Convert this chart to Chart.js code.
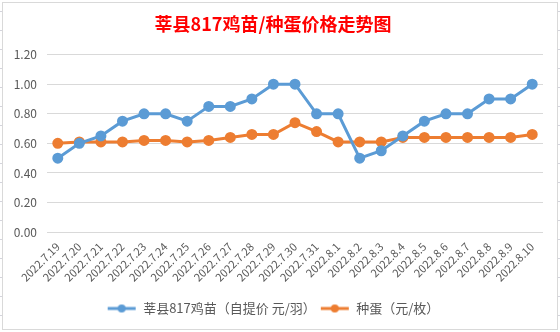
<!DOCTYPE html>
<html lang="zh">
<head>
    <meta charset="UTF-8">
    <title>莘县817鸡苗/种蛋价格走势图</title>
    <style>
        * { margin: 0; padding: 0; box-sizing: border-box; }
        body { width: 560px; height: 332px; background: #fff; position: relative; overflow: hidden;
               background-image: linear-gradient(#d4d4dc 1px, transparent 1px); background-size: 100% 19px; background-position: 0 11px; }
        #box { position: absolute; left: 2px; top: 2px; width: 556px; height: 328px; background: #fff; border: 1px solid #d9d9d9; }
        canvas { display: block; }
    </style>
</head>
<body>
    <div id="box"><canvas id="chart" width="554" height="326"></canvas></div>

    <script src="https://cdn.jsdelivr.net/npm/chart.js@4.4.0/dist/chart.umd.min.js"></script>
    <script>
        const dates = ['2022.7.19', '2022.7.20', '2022.7.21', '2022.7.22', '2022.7.23', '2022.7.24', '2022.7.25',
            '2022.7.26', '2022.7.27', '2022.7.28', '2022.7.29', '2022.7.30', '2022.7.31', '2022.8.1', '2022.8.2',
            '2022.8.3', '2022.8.4', '2022.8.5', '2022.8.6', '2022.8.7', '2022.8.8', '2022.8.9', '2022.8.10'];
        const chickPrice = [0.50, 0.60, 0.65, 0.75, 0.80, 0.80, 0.75, 0.85, 0.85, 0.90, 1.00, 1.00, 0.80, 0.80,
            0.50, 0.55, 0.65, 0.75, 0.80, 0.80, 0.90, 0.90, 1.00];
        const eggPrice = [0.60, 0.61, 0.61, 0.61, 0.62, 0.62, 0.61, 0.62, 0.64, 0.66, 0.66, 0.74, 0.68, 0.61,
            0.61, 0.61, 0.64, 0.64, 0.64, 0.64, 0.64, 0.64, 0.66];
        const yTicks = [0, 0.2, 0.4, 0.6, 0.8, 1.0, 1.2];

        const blue = '#5b9bd5';
        const orange = '#ed7d31';

        // legend marker: short line with a dot in the middle
        function marker(color) {
            const c = document.createElement('canvas');
            c.width = 30; c.height = 10;
            const g = c.getContext('2d');
            g.strokeStyle = color; g.lineWidth = 3;
            g.beginPath(); g.moveTo(1, 5); g.lineTo(29, 5); g.stroke();
            g.fillStyle = color;
            g.beginPath(); g.arc(15, 5, 4, 0, Math.PI * 2); g.fill();
            return c;
        }

        const font = "'Noto Sans CJK SC', 'Noto Sans', sans-serif";

        new Chart(document.getElementById('chart'), {
            type: 'line',
            data: {
                labels: dates,
                datasets: [{
                    label: '莘县817鸡苗（自提价 元/羽）',
                    data: chickPrice,
                    borderColor: blue,
                    backgroundColor: blue,
                    borderWidth: 3,
                    pointRadius: 4
                }, {
                    label: '种蛋（元/枚）',
                    data: eggPrice,
                    borderColor: orange,
                    backgroundColor: orange,
                    borderWidth: 3,
                    pointRadius: 4
                }]
            },
            options: {
                responsive: false,
                animation: false,
                layout: { padding: { left: 0, right: 14, top: 4, bottom: 4 } },
                plugins: {
                    title: {
                        display: true,
                        text: '莘县817鸡苗/种蛋价格走势图',
                        color: '#ff0000',
                        font: { family: font, size: 18, weight: 'bold' },
                        padding: { top: 6, bottom: 20 }
                    },
                    legend: {
                        position: 'bottom',
                        labels: {
                            usePointStyle: true,
                            pointStyleWidth: 30,
                            color: '#595959',
                            font: { family: font, size: 13 },
                            boxWidth: 30,
                            padding: 4,
                            generateLabels: chart => {
                                const items = Chart.defaults.plugins.legend.labels.generateLabels(chart);
                                items.forEach(it => { it.pointStyle = marker(chart.data.datasets[it.datasetIndex].borderColor); });
                                return items;
                            }
                        }
                    },
                    tooltip: { enabled: false }
                },
                scales: {
                    x: {
                        offset: true,
                        grid: { display: false },
                        border: { display: false },
                        afterFit: axis => { axis.height += 14; },
                        ticks: {
                            color: '#595959',
                            font: { family: font, size: 11 },
                            minRotation: 45,
                            maxRotation: 45,
                            autoSkip: false,
                            padding: 0
                        }
                    },
                    y: {
                        min: 0,
                        max: 1.2,
                        afterBuildTicks: axis => { axis.ticks = yTicks.map(v => ({ value: v })); },
                        afterFit: axis => { axis.width = 44; },
                        grid: { color: '#d9d9d9', drawTicks: false },
                        border: { display: false },
                        ticks: {
                            color: '#595959',
                            font: { family: font, size: 12 },
                            padding: 10,
                            callback: v => v.toFixed(2)
                        }
                    }
                }
            }
        });
    </script>
</body>
</html>
